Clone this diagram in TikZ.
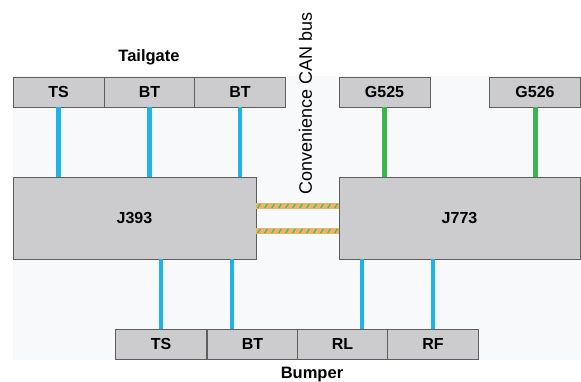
\documentclass[tikz,border=0pt]{standalone}
\usepackage{fontspec}
\setmainfont{Liberation Sans}
\usetikzlibrary{decorations.markings}
\definecolor{boxfill}{HTML}{CCCCCE}
\definecolor{boxline}{HTML}{5E5E5E}
\definecolor{wireblue}{HTML}{1EB4E6}
\definecolor{wiregreen}{HTML}{3DB54E}
\definecolor{canorange}{HTML}{E9B56E}
\definecolor{cangreen}{HTML}{5DB84A}
\definecolor{bgtint}{HTML}{F8F9FB}
\begin{document}
\begin{tikzpicture}[x=1pt,y=-1pt,
  box/.style={draw=boxline, line width=0.9pt, fill=boxfill, inner sep=0pt, outer sep=0pt,
    font=\fontsize{16}{19}\selectfont\bfseries},
  small/.style={box, minimum width=91pt, minimum height=30pt},
  ecu/.style={box, minimum height=82pt},
  blue/.style={draw=wireblue, line width=4.5pt},
  green/.style={draw=wiregreen, line width=5pt},
  can/.style={draw=canorange, line width=5.5pt,
    postaction={decorate, decoration={markings,
      mark=between positions 3pt and -2pt step 7pt with {\draw[cangreen, line width=1.3pt] (-1.3pt,-2.1pt) -- (1.3pt,2.1pt);}}}},
  lbl/.style={font=\fontsize{16.5}{19}\selectfont\bfseries, inner sep=0pt}
]
\useasboundingbox (0,0) rectangle (581,382);
\fill[bgtint] (13,76) rectangle (581,360);

% top boxes
\node[small] (tts) at (58.5,92) {TS};
\node[small] (tbt1) at (149.5,92) {BT};
\node[small] (tbt2) at (240,92) {BT};
\node[small] (g525) at (384.5,92) {G525};
\node[small] (g526) at (535,92) {G526};

% control units
\node[ecu, minimum width=243pt] (j393) at (134.5,218) {J393};
\node[ecu, minimum width=241pt] (j773) at (459.5,218) {J773};

% bottom boxes
\node[small] (bts) at (161,344) {TS};
\node[small] (bbt) at (252.5,344) {BT};
\node[small] (brl) at (342.5,344) {RL};
\node[small] (brf) at (433,344) {RF};

% labels
\node[lbl] (tailgate) at (149,57) {Tailgate};
\node[lbl] (bumper) at (312,375) {Bumper};
\node[rotate=90, anchor=west, inner sep=0pt, font=\fontsize{18}{21}\selectfont] (canlbl) at (305.5,195) {Convenience CAN bus};

% wires top
\draw[blue] (tts.south) -- (tts.south |- j393.north);
\draw[blue] (tbt1.south) -- (tbt1.south |- j393.north);
\draw[blue] (tbt2.south) -- (tbt2.south |- j393.north);
\draw[green] (g525.south) -- (g525.south |- j773.north);
\draw[green] (g526.south) -- (g526.south |- j773.north);

% wires bottom
\draw[blue] (bts.north) -- (bts.north |- j393.south);
\draw[blue] ([xshift=-20.5pt]bbt.north) -- ([xshift=-20.5pt]bbt.north |- j393.south);
\draw[blue] ([xshift=19.5pt]brl.north) -- ([xshift=19.5pt]brl.north |- j773.south);
\draw[blue] (brf.north) -- (brf.north |- j773.south);

% CAN bus
\draw[can] ([yshift=12pt]j393.east) -- ([yshift=12pt]j773.west);
\draw[can] ([yshift=-13pt]j393.east) -- ([yshift=-13pt]j773.west);
\end{tikzpicture}
\end{document}
